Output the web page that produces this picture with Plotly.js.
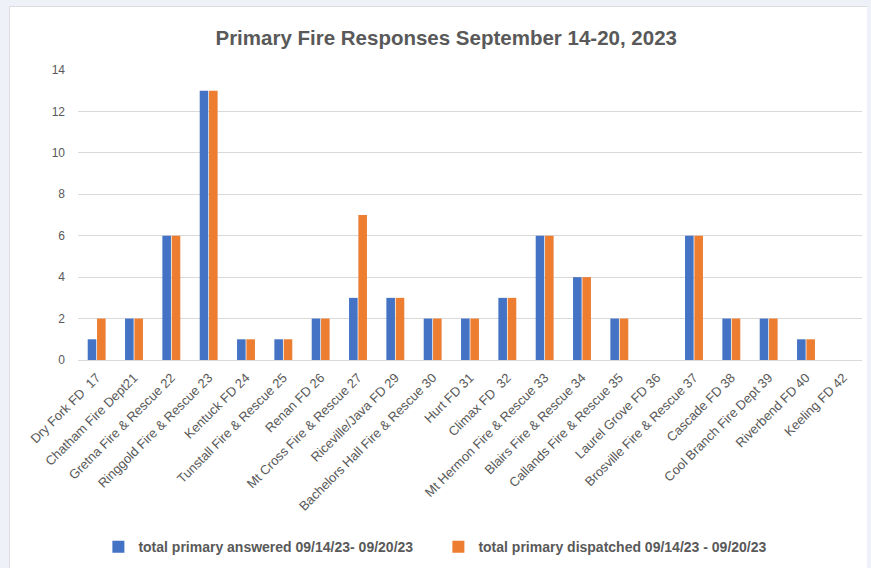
<!DOCTYPE html>
<html>
<head>
<meta charset="utf-8">
<script src="https://cdn.plot.ly/plotly-3.0.1.min.js"></script>
<style>
  html, body { margin: 0; padding: 0; background: #eef2f8; width: 871px; height: 568px; overflow: hidden; }
  #chart { position: absolute; left: 9px; top: 6px; width: 857px; height: 562px; border-left: 1px solid #dcdcdc; border-top: 1px solid #dcdcdc; background: #fff; }
</style>
</head>
<body>
<div id="chart"></div>
<script>
const categories = [
  "Dry Fork FD  17", "Chatham Fire Dept21", "Gretna Fire & Rescue 22", "Ringgold Fire & Rescue 23",
  "Kentuck FD 24", "Tunstall Fire & Rescue 25", "Renan FD 26", "Mt Cross Fire & Rescue 27",
  "Riceville/Java FD 29", "Bachelors Hall Fire & Rescue 30", "Hurt FD 31", "Climax FD  32",
  "Mt Hermon Fire & Rescue 33", "Blairs Fire & Rescue 34", "Callands Fire & Rescue 35",
  "Laurel Grove FD 36", "Brosville Fire & Rescue 37", "Cascade FD 38", "Cool Branch Fire Dept 39",
  "Riverbend FD 40", "Keeling FD 42"
];
const answered   = [1, 2, 6, 13, 1, 1, 2, 3, 3, 2, 2, 3, 6, 4, 2, 0, 6, 2, 2, 1, 0];
const dispatched = [2, 2, 6, 13, 1, 1, 2, 7, 3, 2, 2, 3, 6, 4, 2, 0, 6, 2, 2, 1, 0];
const seriesNames = ["total primary answered 09/14/23- 09/20/23", "total primary dispatched 09/14/23 - 09/20/23"];
const yTicks = [0, 2, 4, 6, 8, 10, 12, 14];

const data = [
  { type: "bar", x: categories, y: answered, name: seriesNames[0], marker: { color: "#4472C4" } },
  { type: "bar", x: categories, y: dispatched, name: seriesNames[1], marker: { color: "#ED7D31" } }
];

const layout = {
  width: 857, height: 562,
  margin: { l: 68, r: 5, t: 63, b: 209, autoexpand: false },
  paper_bgcolor: "#ffffff",
  plot_bgcolor: "#ffffff",
  font: { family: "Liberation Sans, Arial, sans-serif", color: "#595959" },
  title: {
    text: "Primary Fire Responses September 14-20, 2023",
    font: { family: "Liberation Sans, Arial, sans-serif", size: 20.5, color: "#595959", weight: "bold" },
    x: 0.509, xref: "container", xanchor: "center",
    y: 1 - 31 / 562, yanchor: "middle"
  },
  barmode: "group",
  bargap: 0.5,
  bargroupgap: 0.08,
  showlegend: true,
  legend: {
    orientation: "h",
    x: 0.026, xanchor: "left",
    y: -0.645, yanchor: "middle",
    font: { family: "Liberation Sans, Arial, sans-serif", size: 14, color: "#595959", weight: "bold" },
    itemwidth: 30,
    entrywidth: 295,
    entrywidthmode: "pixels",
    traceorder: "normal"
  },
  xaxis: {
    type: "category",
    automargin: false,
    tickangle: -45,
    tickfont: { size: 13, color: "#595959" },
    showgrid: false,
    showline: true,
    linecolor: "#d9d9d9",
    linewidth: 1,
    ticks: "",
    zeroline: false,
    ticklabelstandoff: 4,
    fixedrange: true
  },
  yaxis: {
    automargin: false,
    range: [0, 14],
    tickvals: yTicks,
    ticktext: yTicks.map(String),
    tickfont: { size: 12, color: "#595959" },
    showgrid: true,
    gridcolor: "#d9d9d9",
    gridwidth: 1,
    zeroline: false,
    showline: false,
    ticks: "",
    ticklabelstandoff: 12,
    fixedrange: true
  }
};

Plotly.newPlot("chart", data, layout, { displayModeBar: false, staticPlot: true });
</script>
</body>
</html>
